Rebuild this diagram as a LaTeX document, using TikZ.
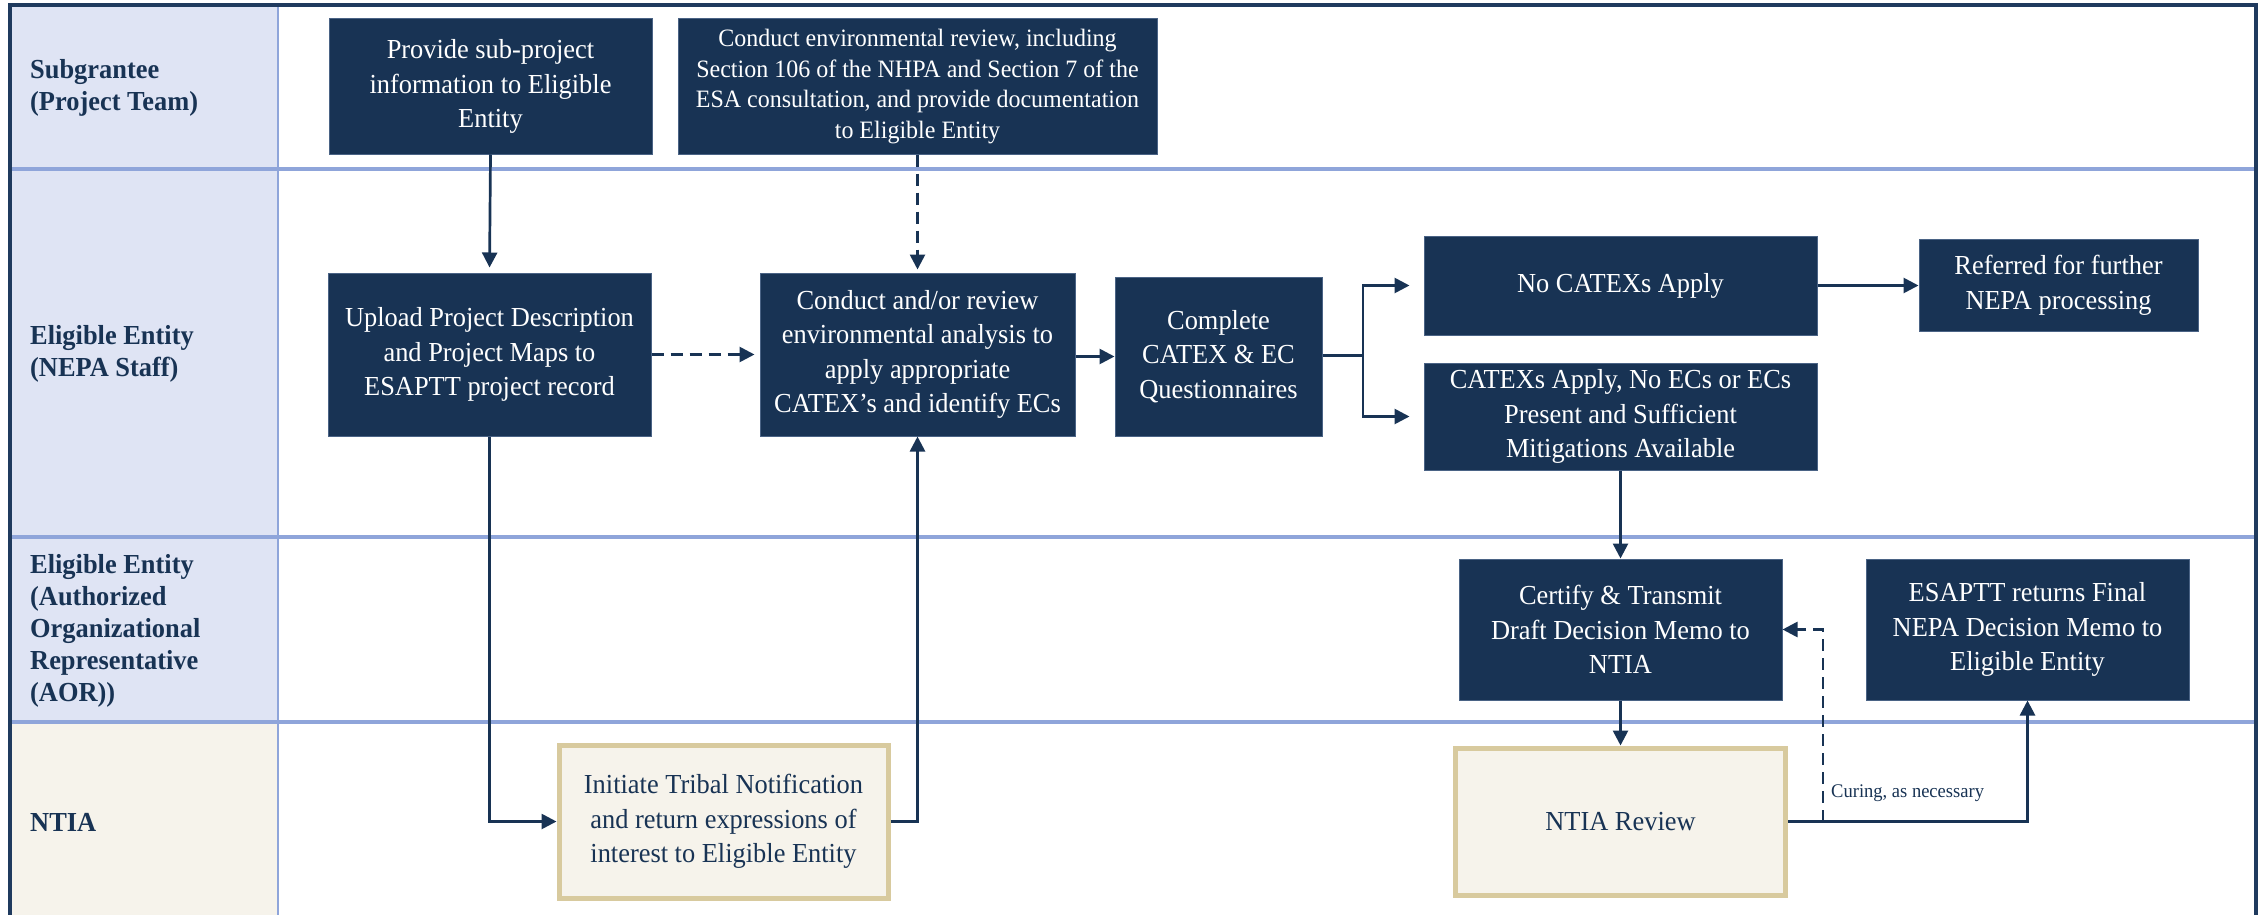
\documentclass[tikz,border=0pt]{standalone}
\usepackage{fontspec}
\setmainfont{Liberation Serif}[FakeStretch=0.96]
\usetikzlibrary{arrows.meta}
\definecolor{navy}{HTML}{183354}
\definecolor{lav}{HTML}{DFE4F4}
\definecolor{crm}{HTML}{F6F3EB}
\definecolor{peri}{HTML}{8FA5DA}
\definecolor{tanb}{HTML}{D8CA9E}
\definecolor{framec}{HTML}{1F3A5E}
\definecolor{boxedge}{HTML}{4A6385}
\begin{document}
\begin{tikzpicture}[x=1pt,y=-1pt,
  darkbox/.style={rectangle, fill=navy, draw=boxedge, line width=1pt, text=white, align=center, inner sep=0pt, font=\fontsize{27.5}{34.5}\selectfont},
  lightbox/.style={rectangle, fill=crm, draw=tanb, line width=5pt, text=navy, align=center, inner sep=0pt, font=\fontsize{27.5}{34.5}\selectfont},
  lanelabel/.style={anchor=west, align=left, text=navy, inner sep=0pt, font=\fontsize{27.5}{32}\selectfont\bfseries},
  conn/.style={draw=navy, line width=2.7pt, -{Triangle[length=15pt,width=15pt]}},
  dconn/.style={conn, dash pattern=on 12pt off 7pt},
]
\useasboundingbox (0,0) rectangle (2259,915);
% lanes
\fill[lav] (11,5) rectangle (278,722);
\fill[crm] (11,722) rectangle (278,915);
\draw[peri, line width=2.5pt] (278,5) -- (278,915);
\foreach \yy in {169,537,722} \draw[peri, line width=3.5pt] (11,\yy) -- (2256,\yy);
\draw[framec, line width=3.5pt] (10,915) -- (10,5) -- (2256,5) -- (2256,915);
% lane labels
\node[lanelabel] (l1) at (30,88) {Subgrantee\\(Project Team)};
\node[lanelabel] (l2) at (30,354) {Eligible Entity\\(NEPA Staff)};
\node[lanelabel] (l3) at (30,631) {Eligible Entity\\(Authorized\\Organizational\\Representative\\(AOR))};
\node[lanelabel] (l4) at (30,822) {NTIA};
% boxes
\node[darkbox, minimum width=323pt, minimum height=135pt] (prov) at (490.5,86.5) {Provide sub-project\\information to Eligible\\Entity};
\node[darkbox, minimum width=479pt, minimum height=135pt, font=\fontsize{25}{30.5}\selectfont] (envr) at (917.5,86.5) {Conduct environmental review, including\\Section 106 of the NHPA and Section 7 of the\\ESA consultation, and provide documentation\\to Eligible Entity};
\node[darkbox, minimum width=323pt, minimum height=163pt] (upl) at (489.5,354.5) {Upload Project Description\\and Project Maps to\\ESAPTT project record};
\node[darkbox, minimum width=315pt, minimum height=163pt] (cond) at (917.5,354.5) {Conduct and/or review\\environmental analysis to\\apply appropriate\\CATEX’s and identify ECs};
\node[darkbox, minimum width=207pt, minimum height=159pt] (comp) at (1218.5,356.5) {Complete\\CATEX \& EC\\Questionnaires};
\node[darkbox, minimum width=393pt, minimum height=99pt] (noc) at (1620.5,285.5) {No CATEXs Apply};
\node[darkbox, minimum width=393pt, minimum height=107pt] (capp) at (1620.5,416.5) {CATEXs Apply, No ECs or ECs\\Present and Sufficient\\Mitigations Available};
\node[darkbox, minimum width=279pt, minimum height=92pt] (ref) at (2058.5,285.5) {Referred for further\\NEPA processing};
\node[darkbox, minimum width=323pt, minimum height=141pt] (cert) at (1620.5,629.5) {Certify \& Transmit\\Draft Decision Memo to\\NTIA};
\node[darkbox, minimum width=323pt, minimum height=141pt] (esa) at (2027.5,629.5) {ESAPTT returns Final\\NEPA Decision Memo to\\Eligible Entity};
\node[lightbox, minimum width=329pt, minimum height=153pt] (trib) at (723.5,821.5) {Initiate Tribal Notification\\and return expressions of\\interest to Eligible Entity};
\node[lightbox, minimum width=330pt, minimum height=147pt] (rev) at (1620.5,821.5) {NTIA Review};
% connectors
\draw[conn, shorten >=5pt] (prov.south) -- (upl.north);
\draw[dconn, shorten >=3pt] (envr.south) -- (cond.north);
\draw[dconn, shorten >=5pt] (upl.east) -- (upl.east -| cond.west);
\draw[conn] (cond.east |- comp.west) -- (comp.west);
\coordinate (br) at (1363,355.5);
\draw[navy, line width=3.5pt] (comp.east |- br) -- (br);
\draw[conn, shorten >=14pt] (br) |- (noc.west);
\draw[conn, shorten >=14pt] (br) |- (capp.west);
\draw[conn] (noc.east) -- (noc.east -| ref.west);
\draw[conn] (capp.south) -- (cert.north);
\draw[conn] (cert.south) -- (rev.north);
\draw[conn] (upl.south) |- (trib.west);
\draw[conn] (trib.east) -| (cond.south);
\draw[conn] (rev.east) -| (esa.south);
\coordinate (cur) at (1823,821.5);
\draw[dconn] (cur) |- (cert.east);
\node[anchor=west, text=navy, inner sep=0pt, font=\fontsize{19.3}{22}\selectfont] (curl) at (1831,793) {Curing, as necessary};
\end{tikzpicture}
\end{document}
